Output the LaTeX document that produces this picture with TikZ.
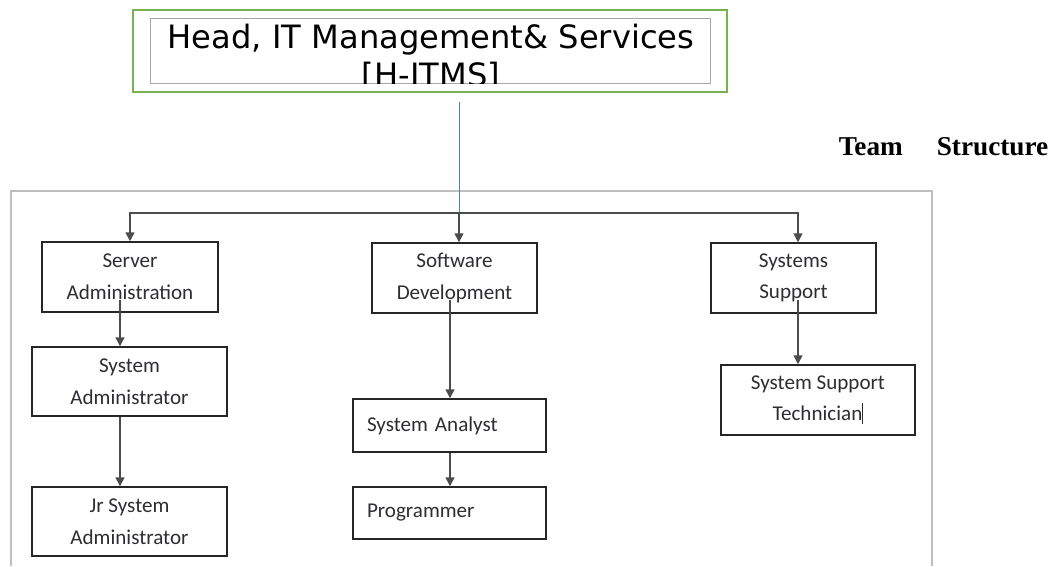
\documentclass[tikz,border=0pt]{standalone}
\usepackage{fontspec}
\usepackage{tikz}
\usetikzlibrary{arrows.meta}
\newfontfamily\boxfont{Carlito}
\newfontfamily\headfont{DejaVu Sans}
\newfontfamily\titlefont{Liberation Serif}
\definecolor{headgreen}{RGB}{120,178,80}
\definecolor{linkblue}{RGB}{70,130,190}
\definecolor{boxtext}{RGB}{45,45,50}

\begin{document}
\begin{tikzpicture}[x=0.02cm,y=-0.02cm,line width=0.3mm,
  unit/.style={draw=black!85,line width=0.3mm,inner sep=0pt,align=center,
    text=boxtext,font=\boxfont\fontsize{12}{18}\selectfont},
  leftunit/.style={unit,align=left,inner xsep=0.28cm},
  link/.style={draw=black!70,line width=0.3mm,-{Triangle[width=5pt,length=5pt]}},
  frame/.style={draw=black!25,line width=0.4mm}]

\useasboundingbox (0,0) rectangle (1054,566);

%\draw[frame] (11,191) rectangle (932,566);
\draw[frame] (11,566) |- (932,191) -- (932,566);

% head box
\node[draw=headgreen,line width=0.35mm,minimum width=11.88cm,minimum height=1.64cm] (head) at (430,51) {};
\draw[black!35,line width=0.2mm] (150,18) rectangle (710,83);
\begin{scope}
\clip (150,18) rectangle (710,83);
\node[anchor=base,inner sep=0pt,font=\headfont\fontsize{18.3}{21}\selectfont] (headl1) at (431,48) {Head, IT Management\& Services};
\node[anchor=base,inner sep=0pt,font=\headfont\fontsize{18.3}{21}\selectfont] (headl2) at (431,86) {[H-ITMS]};
\end{scope}

\node[anchor=base west,inner sep=0pt,font=\titlefont\bfseries\fontsize{15.5}{18}\selectfont] (title) at (838,155) {Team\hspace{1.25em}Structure};

% units
\node[unit,minimum width=3.52cm,minimum height=1.4cm] (srvadm) at (130,277) {Server\\Administration};
\node[unit,minimum width=3.3cm,minimum height=1.4cm] (swdev) at (454.5,278) {Software\\Development};
\node[unit,minimum width=3.3cm,minimum height=1.4cm] (syssup) at (793.5,278) {Systems\\Support};

\node[unit,minimum width=3.9cm,minimum height=1.38cm] (sysadm) at (129.5,381.5) {System\\Administrator};
\node[unit,minimum width=3.9cm,minimum height=1.38cm] (jrsysadm) at (129.5,521.5) {Jr System\\Administrator};
\node[leftunit,text width=3.3cm,minimum height=1.06cm] (sysan) at (449.5,425.5) {System Analyst};
\node[leftunit,text width=3.3cm,minimum height=1.04cm] (prog) at (449.5,513) {Programmer};
\node[unit,minimum width=3.88cm,minimum height=1.4cm] (suptech) at (818,400) {System Support\\Technician\rule[-2pt]{0.6pt}{12pt}};

% connectors
\coordinate (headout) at (459,102);
\coordinate (bus) at (459,213);
\draw[linkblue,line width=0.2mm] (headout) -- (bus);
\draw[link] (bus) -| (srvadm.north);
\draw[link] (bus) -| ([xshift=0.09cm]syssup.north);
\draw[link] (bus) -- (bus |- swdev.north);

\coordinate (srvout) at (120,300);
\draw[link] (srvout) -- (srvout |- sysadm.north);
\draw[link] (srvout |- sysadm.south) -- (srvout |- jrsysadm.north);

\coordinate (swout) at (450,300);
\draw[link] (swout) -- (swout |- sysan.north);
\draw[link] (swout |- sysan.south) -- (swout |- prog.north);

\coordinate (ssout) at (798,300);
\draw[link] (ssout) -- (ssout |- suptech.north);
\end{tikzpicture}
\end{document}
